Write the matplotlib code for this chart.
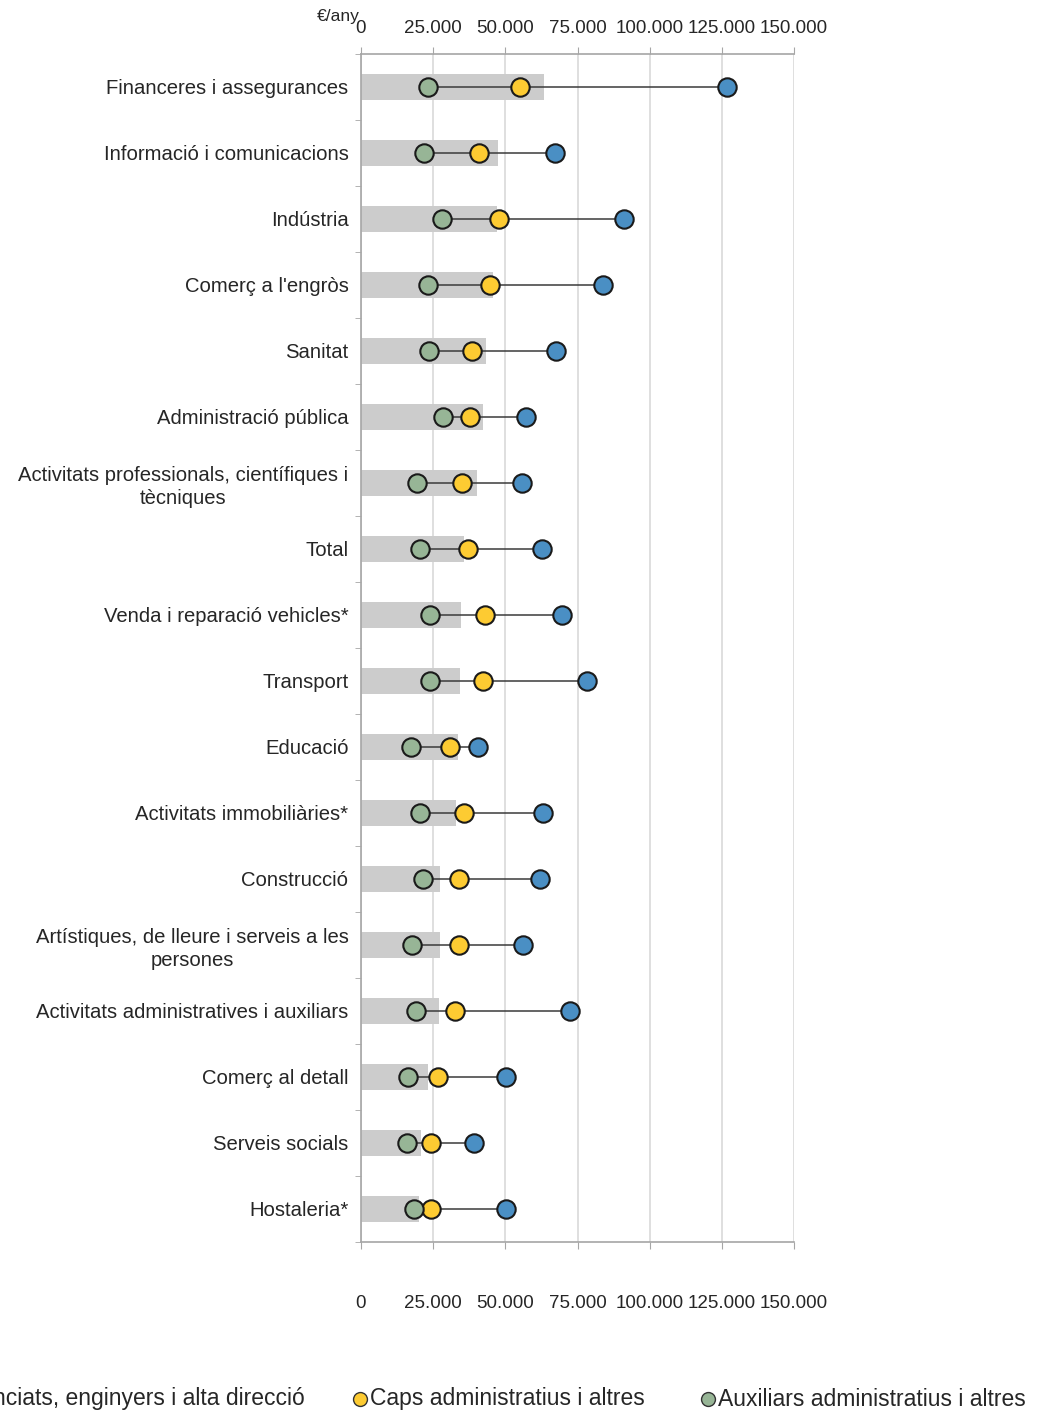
import numpy as np
import matplotlib
matplotlib.use("Agg")
import matplotlib.pyplot as plt
from matplotlib.lines import Line2D

plt.rcParams['font.family'] = ['Liberation Sans', 'DejaVu Sans']

# dades (euros/any)
sectors = [
    "Financeres i assegurances",
    "Informació i comunicacions",
    "Indústria",
    "Comerç a l'engròs",
    "Sanitat",
    "Administració pública",
    "Activitats professionals, científiques i\ntècniques",
    "Total",
    "Venda i reparació vehicles*",
    "Transport",
    "Educació",
    "Activitats immobiliàries*",
    "Construcció",
    "Artístiques, de lleure i serveis a les\npersones",
    "Activitats administratives i auxiliars",
    "Comerç al detall",
    "Serveis socials",
    "Hostaleria*",
]
mitjana = [63400, 47500, 47100, 45700, 43300, 42300, 40200, 35700, 34600,
           34300, 33600, 32900, 27400, 27400, 27000, 23200, 20800, 20100]
llicenciats = [126800, 67200, 91100, 83800, 67500, 57200, 55800, 62700, 69600,
               78300, 40500, 63000, 62000, 56100, 72400, 50200, 39100, 50200]
caps = [55100, 40900, 47800, 44700, 38400, 37800, 35000, 37100, 43000,
        42300, 30800, 35700, 33900, 33900, 32600, 26700, 24200, 24200]
auxiliars = [23200, 21800, 28100, 23200, 23600, 28400, 19400, 20400, 23900,
             23900, 17300, 20400, 21500, 17700, 19100, 16300, 15900, 18400]
xticks = [0, 25000, 50000, 75000, 100000, 125000, 150000]
xticklabels = [f"{v:,.0f}".replace(',', '.') for v in xticks]

c_blue = '#4a8fc4'
c_yellow = '#fdcb32'
c_green = '#97b596'
txt = '#262626'
axc = '#a6a6a6'

W, H = 1049, 1414
fig = plt.figure(figsize=(W / 100, H / 100), dpi=100)
ax = fig.add_axes([361 / W, 1 - 1242 / H, (794 - 361) / W, (1242 - 54) / H])

y = np.arange(len(sectors))
ax.barh(y, mitjana, height=0.4, color='#cccccc', zorder=2)

# linia del minim al maxim de cada sector
for i in range(len(sectors)):
    vals = [llicenciats[i], caps[i], auxiliars[i]]
    ax.plot([min(vals), max(vals)], [i, i], color='#3a3a3a', lw=1.1, zorder=3)

ms = 175
ax.scatter(llicenciats, y, s=ms, color=c_blue, edgecolor='#1a1a1a', linewidth=1.5, zorder=4)
ax.scatter(caps, y, s=ms, color=c_yellow, edgecolor='#1a1a1a', linewidth=1.5, zorder=4)
ax.scatter(auxiliars, y, s=ms, color=c_green, edgecolor='#1a1a1a', linewidth=1.5, zorder=4)

ax.set_xlim(0, 150000)
ax.set_ylim(len(sectors) - 0.5, -0.5)
ax.set_xticks(xticks)
ax.set_xticklabels(xticklabels)
ax.grid(axis='x', color='#d9d9d9', lw=1.2, zorder=0)
ax.set_axisbelow(True)

ax.set_yticks(y)
ax.set_yticklabels(sectors)
ax.set_yticks(np.arange(len(sectors) + 1) - 0.5, minor=True)
for lab in ax.get_yticklabels():
    lab.set_multialignment('center')
    lab.set_linespacing(1.3)

for s in ['top', 'bottom', 'left']:
    ax.spines[s].set_color(axc)
    ax.spines[s].set_linewidth(1.2)
ax.spines['right'].set_visible(False)

ax.tick_params(axis='y', which='major', length=0, pad=9, labelsize=14.6, labelcolor=txt)
ax.tick_params(axis='y', which='minor', length=4, color=axc, direction='out')
ax.tick_params(axis='x', which='major', top=True, bottom=True, labeltop=True, labelbottom=False,
               length=5, color=axc, direction='out', labelsize=13.5, labelcolor=txt, pad=7)

# etiquetes inferiors, mes avall
sec = ax.secondary_xaxis('bottom')
sec.set_xticks(xticks)
sec.set_xticklabels(xticklabels)
sec.tick_params(length=0, pad=38, labelsize=13.5, labelcolor=txt)
sec.spines['bottom'].set_visible(False)

fig.text(360 / W, 1 - 16 / H, "€/any", ha='right', va='center', fontsize=12.5, color=txt)

# llegenda (retallada a l'esquerra com a l'original)
leg_y = 1 - 1399 / H
lf = dict(fontsize=16.5, color=txt, va='center')
fig.text(305 / W, leg_y, "Llicenciats, enginyers i alta direcció", ha='right', **lf)
fig.add_artist(Line2D([360 / W], [leg_y], transform=fig.transFigure, marker='o', ms=10,
                      color=c_yellow, markeredgecolor='#333333', lw=0))
fig.text(370 / W, leg_y, "Caps administratius i altres", ha='left', **lf)
fig.add_artist(Line2D([708 / W], [leg_y], transform=fig.transFigure, marker='o', ms=10,
                      color=c_green, markeredgecolor='#333333', lw=0))
fig.text(718 / W, leg_y, "Auxiliars administratius i altres", ha='left', **lf)

fig.savefig("out.png", dpi=100)
